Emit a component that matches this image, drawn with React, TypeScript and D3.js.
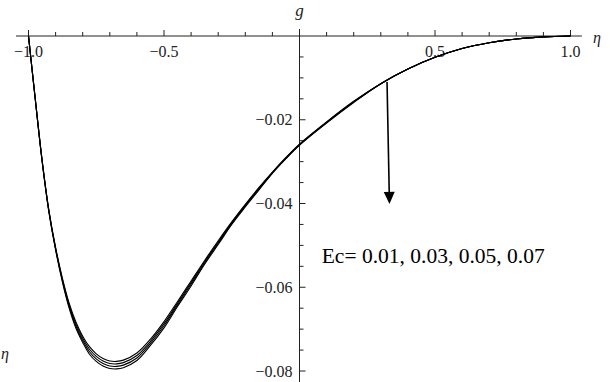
import React, { useEffect, useRef } from 'react';
import * as d3 from 'd3';

const W = 610, H = 382;

// eta grid and g(eta) for the four Eckert numbers
const eta = [-1, -0.975, -0.95, -0.925, -0.9, -0.875, -0.85, -0.825, -0.8, -0.775, -0.75, -0.725, -0.7, -0.675, -0.65, -0.6, -0.55, -0.5, -0.45, -0.4, -0.35, -0.3, -0.25, -0.2, -0.15, -0.1, -0.05, 0, 0.1, 0.2, 0.3, 0.4, 0.5, 0.6, 0.7, 0.8, 0.9, 1];
const gEc001 = [0, -0.0150, -0.0295, -0.0415, -0.0505, -0.0578, -0.0638, -0.0683, -0.0717, -0.0742, -0.0759, -0.0770, -0.0776, -0.0777, -0.0774, -0.0757, -0.0724, -0.0682, -0.0634, -0.0585, -0.0536, -0.0489, -0.0444, -0.0402, -0.0362, -0.0325, -0.0290, -0.0258, -0.0205, -0.0156, -0.0114, -0.0079, -0.0051, -0.0030, -0.0016, -0.0007, -0.0002, 0];
const gEc003 = [0, -0.01505, -0.0296, -0.04165, -0.0507, -0.0581, -0.0642, -0.0688, -0.0722, -0.0748, -0.0765, -0.0776, -0.0782, -0.0783, -0.0780, -0.0763, -0.0729, -0.0687, -0.0638, -0.0589, -0.0539, -0.0492, -0.0446, -0.0404, -0.0364, -0.0326, -0.0291, -0.0259, -0.0206, -0.0157, -0.0114, -0.0079, -0.0051, -0.0030, -0.0016, -0.0007, -0.0002, 0];
const gEc005 = [0, -0.0151, -0.0297, -0.0418, -0.0509, -0.0584, -0.0646, -0.0693, -0.0727, -0.0754, -0.0771, -0.0782, -0.0788, -0.0789, -0.0786, -0.0769, -0.0734, -0.0692, -0.0642, -0.0593, -0.0542, -0.0495, -0.0448, -0.0406, -0.0366, -0.0327, -0.0292, -0.0260, -0.0207, -0.0158, -0.0114, -0.0079, -0.0051, -0.0030, -0.0016, -0.0007, -0.0002, 0];
const gEc007 = [0, -0.01515, -0.0298, -0.04195, -0.0511, -0.0587, -0.0650, -0.0698, -0.0732, -0.0760, -0.0777, -0.0788, -0.0794, -0.0795, -0.0792, -0.0775, -0.0739, -0.0697, -0.0646, -0.0597, -0.0545, -0.0498, -0.0450, -0.0408, -0.0368, -0.0328, -0.0293, -0.0261, -0.0208, -0.0159, -0.0114, -0.0079, -0.0051, -0.0030, -0.0016, -0.0007, -0.0002, 0];
const series = [gEc001, gEc003, gEc005, gEc007];

const ecValues = ['0.01', '0.03', '0.05', '0.07'];
const xTickValues = [-1, -0.5, 0.5, 1];
const xTickLabels = ['\u22121.0', '\u22120.5', '0.5', '1.0'];
const yTickValues = [-0.02, -0.04, -0.06, -0.08];
const yTickLabels = ['\u22120.02', '\u22120.04', '\u22120.06', '\u22120.08'];

// arrow annotation (data coords)
const arrowFrom = [0.323, -0.011];
const arrowTo = [0.332, -0.0401];
const labelAt = [0.082, -0.0543];

const font = '"Liberation Serif", "Times New Roman", serif';

export default function App() {
    const svgRef = useRef<SVGSVGElement>(null);

    useEffect(() => {
        const svg = d3.select(svgRef.current);
        svg.selectAll('*').remove();

        const x = d3.scaleLinear().domain([-1, 1]).range([28.5, 570.5]);
        const y = d3.scaleLinear().domain([-0.08, 0]).range([371, 36]);
        const axisColor = '#222';

        // x axis line + ticks (pointing up)
        svg.append('line')
            .attr('x1', x(-1.046)).attr('x2', x(1.042))
            .attr('y1', y(0)).attr('y2', y(0))
            .attr('stroke', axisColor).attr('stroke-width', 1);
        const xMinor = d3.range(-10, 11).map(i => i / 10).filter(v => v !== 0);
        svg.selectAll('.x-tick')
            .data(xMinor)
            .enter().append('line')
            .attr('class', 'x-tick')
            .attr('x1', d => x(d)).attr('x2', d => x(d))
            .attr('y1', y(0))
            .attr('y2', d => y(0) - (Math.round(Math.abs(d * 10)) % 5 === 0 ? 6 : 4))
            .attr('stroke', axisColor).attr('stroke-width', 1);
        svg.selectAll('.x-label')
            .data(xTickValues)
            .enter().append('text')
            .attr('class', 'x-label')
            .attr('x', d => x(d))
            .attr('y', 57)
            .attr('text-anchor', 'middle')
            .attr('font-family', font)
            .attr('font-size', 16)
            .attr('fill', axisColor)
            .text((d, i) => xTickLabels[i]);

        // y axis line + ticks (pointing right)
        svg.append('line')
            .attr('x1', x(0)).attr('x2', x(0))
            .attr('y1', 29).attr('y2', 382)
            .attr('stroke', axisColor).attr('stroke-width', 1);
        const yMinor = d3.range(1, 17).map(i => -i * 0.005);
        svg.selectAll('.y-tick')
            .data(yMinor)
            .enter().append('line')
            .attr('class', 'y-tick')
            .attr('x1', x(0))
            .attr('x2', (d, i) => x(0) + ((i + 1) % 4 === 0 ? 6 : 4))
            .attr('y1', d => y(d)).attr('y2', d => y(d))
            .attr('stroke', axisColor).attr('stroke-width', 1);
        svg.selectAll('.y-label')
            .data(yTickValues)
            .enter().append('text')
            .attr('class', 'y-label')
            .attr('x', x(0) - 7)
            .attr('y', d => y(d) + 5.5)
            .attr('text-anchor', 'end')
            .attr('font-family', font)
            .attr('font-size', 16)
            .attr('fill', axisColor)
            .text((d, i) => yTickLabels[i]);

        // axis names
        svg.append('text')
            .attr('x', x(0)).attr('y', 16)
            .attr('text-anchor', 'middle')
            .attr('font-family', font).attr('font-style', 'italic')
            .attr('font-size', 17).attr('fill', axisColor)
            .text('g');
        svg.append('text')
            .attr('x', 597).attr('y', 43)
            .attr('text-anchor', 'middle')
            .attr('font-family', font).attr('font-style', 'italic')
            .attr('font-size', 16).attr('fill', axisColor)
            .text('\u03b7');
        svg.append('text')
            .attr('x', 5).attr('y', 359)
            .attr('text-anchor', 'middle')
            .attr('font-family', font).attr('font-style', 'italic')
            .attr('font-size', 16).attr('fill', axisColor)
            .text('\u03b7');

        // curves
        const line = d3.line<number>()
            .x((d, i) => x(eta[i]))
            .y(d => y(d))
            .curve(d3.curveCatmullRom.alpha(0.5));
        svg.selectAll('.curve')
            .data(series)
            .enter().append('path')
            .attr('class', 'curve')
            .attr('d', d => line(d))
            .attr('fill', 'none')
            .attr('stroke', '#000')
            .attr('stroke-width', 1.1);

        // arrow
        const ax1 = x(arrowFrom[0]), ay1 = y(arrowFrom[1]);
        const ax2 = x(arrowTo[0]), ay2 = y(arrowTo[1]);
        const headLen = 12, headHalf = 5.5;
        const ang = Math.atan2(ay2 - ay1, ax2 - ax1);
        const bx = ax2 - headLen * Math.cos(ang), by = ay2 - headLen * Math.sin(ang);
        svg.append('line')
            .attr('x1', ax1).attr('y1', ay1)
            .attr('x2', bx).attr('y2', by)
            .attr('stroke', '#000').attr('stroke-width', 1.6);
        svg.append('path')
            .attr('d', `M${ax2},${ay2}L${bx + headHalf * Math.sin(ang)},${by - headHalf * Math.cos(ang)}L${bx - headHalf * Math.sin(ang)},${by + headHalf * Math.cos(ang)}Z`)
            .attr('fill', '#000');

        svg.append('text')
            .attr('x', x(labelAt[0])).attr('y', y(labelAt[1]))
            .attr('font-family', font)
            .attr('font-size', 21.5)
            .attr('fill', '#000')
            .text(`Ec= ${ecValues.join(', ')}`);
    }, []);

    return (
        <svg ref={svgRef} width={W} height={H}
            style={{ position: 'absolute', left: 0, top: 0, background: '#fff' }} />
    );
}
